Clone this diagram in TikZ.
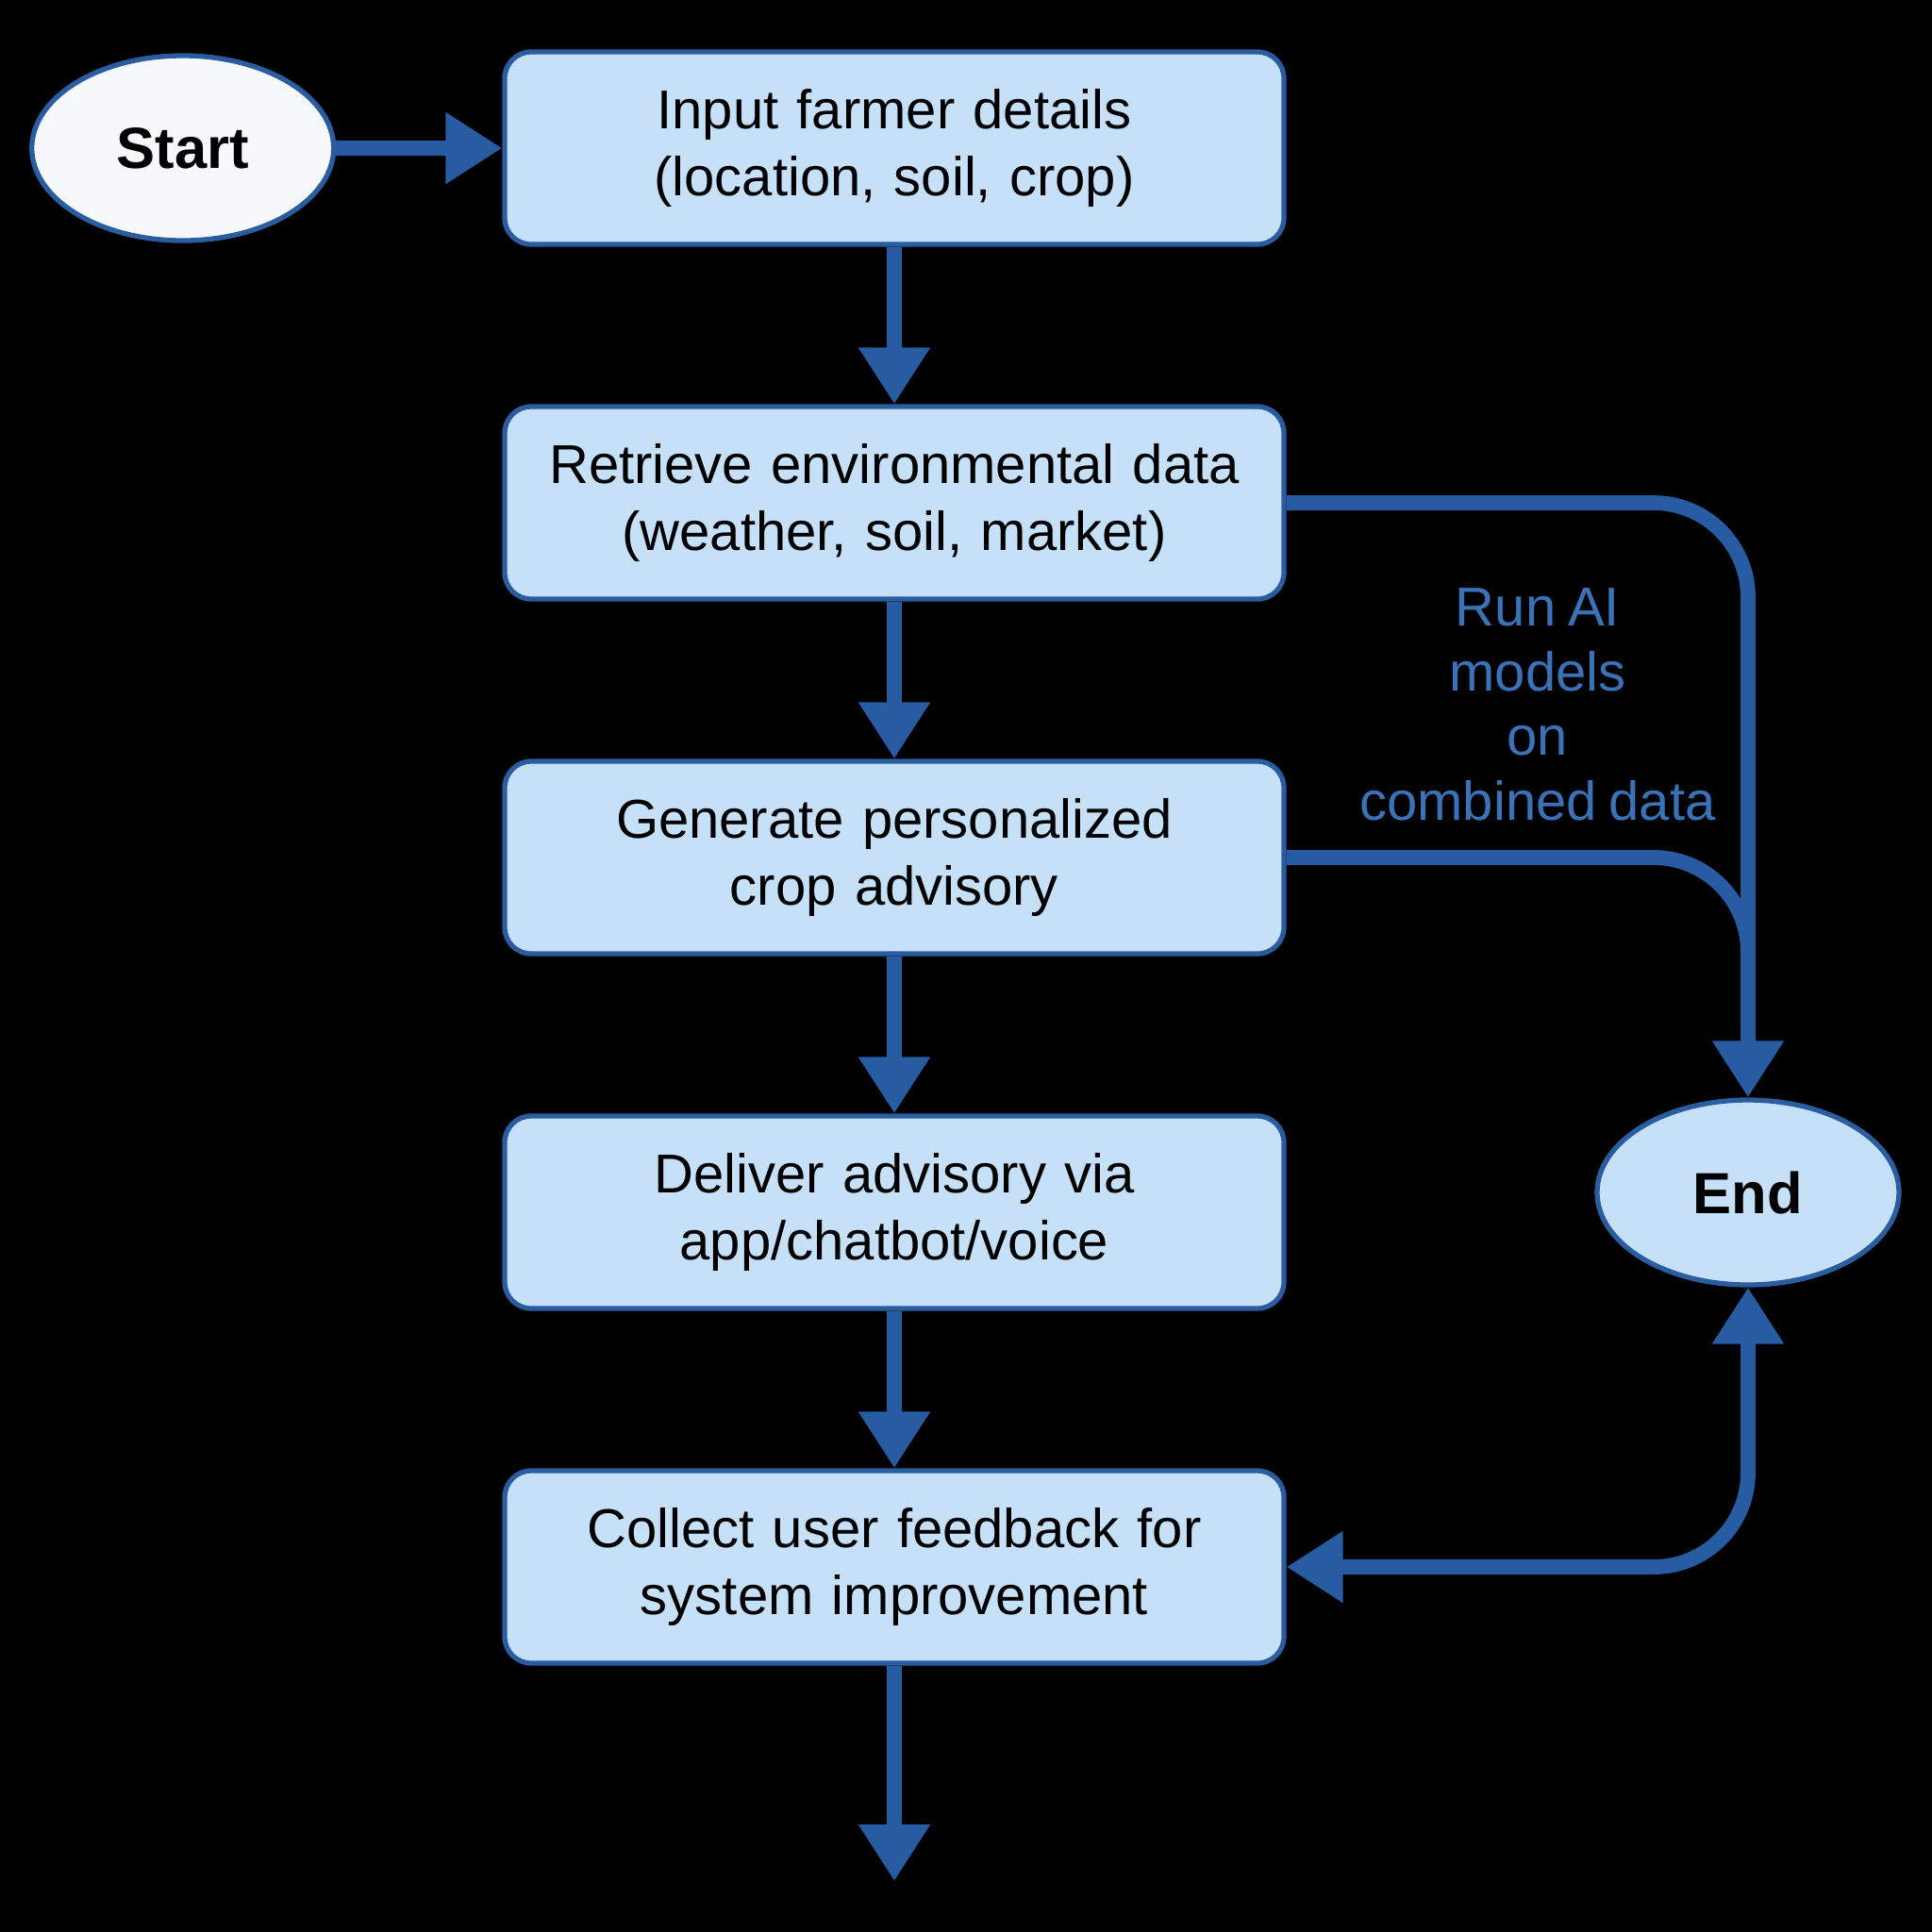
\documentclass[tikz,border=0pt]{standalone}
\usepackage{fontspec}
\setmainfont{Liberation Sans}[WordSpace=0.8]
\usetikzlibrary{positioning,shapes.geometric,arrows.meta}
\definecolor{boxfill}{RGB}{198,224,248}
\definecolor{boxline}{RGB}{42,92,160}
\definecolor{flowblue}{RGB}{40,92,162}
\definecolor{labelblue}{RGB}{58,114,184}
\definecolor{startfill}{RGB}{246,248,252}

\begin{document}
\begin{tikzpicture}[
    node distance=3.76cm,
    block/.style={rectangle, draw=boxline, line width=1.5pt, fill=boxfill, minimum width=8.26cm, minimum height=2.04cm, text width=7.8cm, align=center, rounded corners=0.28cm, font=\fontsize{16.5}{20}\selectfont},
    terminal/.style={ellipse, draw=boxline, line width=1.5pt, minimum width=3.2cm, minimum height=1.96cm, font=\fontsize{17.5}{20}\selectfont\bfseries},
    arrow/.style={->, >={Triangle[width=0.72cm,length=0.6cm]}, draw=flowblue, line width=4.5pt}
]
    \fill[black] (0,0) rectangle (20.48,-20.48);

    \node [block] (input) at (9.48,-1.57) {Input farmer details\\(location, soil, crop)};
    \node [block, below of=input] (retrieve) {Retrieve environmental data\\(weather, soil, market)};
    \node [block, below of=retrieve] (advise) {Generate personalized\\crop advisory};
    \node [block, below of=advise] (deliver) {Deliver advisory via\\app/chatbot/voice};
    \node [block, below of=deliver] (collect) {Collect user feedback for\\system improvement};

    \node [terminal, fill=startfill, left=1.76cm of input] (start) {Start};
    \node [terminal, fill=boxfill] (end) at (18.53,-12.64) {End};
    \node [align=center, text=labelblue, font=\fontsize{16.5}{19.5}\selectfont] (runai) at (16.3,-7.47) {Run AI\\models\\on\\combined data};
    \coordinate (exit) at (9.48,-19.94);

    \draw [arrow] (start) -- (input);
    \draw [arrow] (input) -- (retrieve);
    \draw [arrow] (retrieve) -- (advise);
    \draw [arrow] (advise) -- (deliver);
    \draw [arrow] (deliver) -- (collect);
    \draw [arrow] (collect) -- (exit);

    \draw [arrow, rounded corners=1cm] (retrieve.east) -| (end.north);
    \draw [draw=flowblue, line width=4.5pt, rounded corners=1cm] (advise.east) -| ([yshift=1.5cm]end.north);
    \draw [arrow, <->, rounded corners=1cm] (collect.east) -| (end.south);
\end{tikzpicture}
\end{document}
